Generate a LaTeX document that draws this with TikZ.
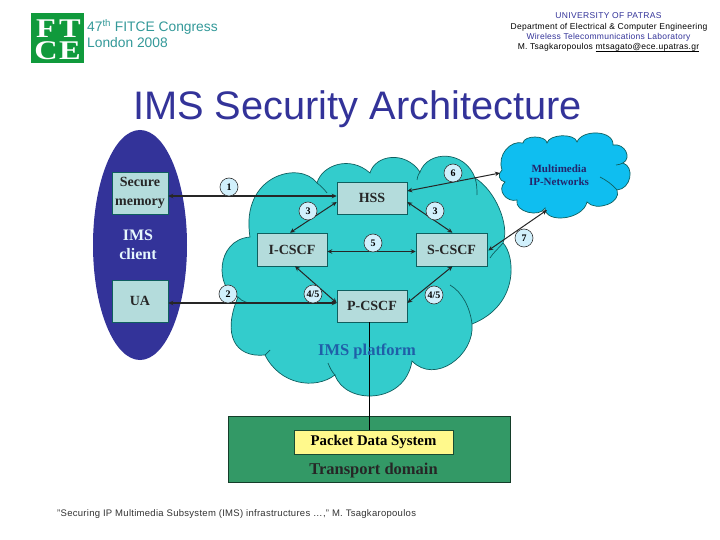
\documentclass[tikz,border=0pt]{standalone}
\usepackage{fontspec}
\setmainfont{Liberation Serif}
\setsansfont{Liberation Sans}
\usetikzlibrary{calc,arrows.meta}
\newcommand\fsz[1]{\fontsize{#1}{#1}\selectfont}
\definecolor{navy}{HTML}{333399}
\definecolor{cloudc}{HTML}{33CCCC}
\definecolor{cloude}{HTML}{0F5F5F}
\definecolor{boxc}{HTML}{B4DCDC}
\definecolor{inetc}{HTML}{0FBEF0}
\definecolor{tealt}{HTML}{339999}
\definecolor{greenr}{HTML}{339966}
\definecolor{logog}{HTML}{109A3C}
\definecolor{platc}{HTML}{1F5FA8}
\tikzset{
  x=1pt,y=-1pt,
  boxn/.style={draw=cloude,line width=0.5pt,fill=boxc,inner sep=0pt,font=\bfseries\fsz{14},text=black!85},
  num/.style={circle,draw=black!80,line width=0.6pt,fill=cyan!18,minimum size=18pt,inner sep=0pt,font=\bfseries\fsz{10}},
  link/.style={draw=black!85,line width=1pt,{Stealth[length=5pt,width=4.5pt]}-{Stealth[length=5pt,width=4.5pt]}},
  thick link/.style={link,line width=1.4pt},
  lobe/.style={draw=cloude,line width=0.7pt},
  logol/.style={text=white,font=\bfseries\fsz{27}\addfontfeature{FakeStretch=1.2},inner sep=0pt,anchor=base},
  hdr/.style={font=\sffamily\fsz{8.5},inner sep=0pt,anchor=base},
  lbl/.style={inner sep=0pt,align=center}
}
\begin{document}
\begin{tikzpicture}
\useasboundingbox (0,0) rectangle (720,540);
\fill[white] (0,0) rectangle (720,540);
% logo
\node[fill=logog,minimum width=53pt,minimum height=50pt,inner sep=0pt] (logo) at (57.5,38) {};
\node[logol] (lf) at (46,38) {F};
\node[logol] (lt) at (70,38) {T};
\node[logol] (lc) at (46,60) {C};
\node[logol] (le) at (70,60) {E};
\node[lbl,anchor=base west,text=tealt,font=\sffamily\fsz{13.8}] (conf1) at (87,32) {47\textsuperscript{th} FITCE Congress};
\node[lbl,anchor=base west,text=tealt,font=\sffamily\fsz{13.8}] (conf2) at (87,48) {London 2008};
% right header
\node[hdr,text=navy] (h1) at (608.5,19) {\addfontfeature{LetterSpace=4}UNIVERSITY OF PATRAS};
\node[hdr] (h2) at (609,30) {\addfontfeature{LetterSpace=3}Department of Electrical \& Computer Engineering};
\node[hdr,text=navy] (h3) at (608.5,40) {\addfontfeature{LetterSpace=3}Wireless Telecommunications Laboratory};
\node[hdr] (h4) at (608.5,50) {\addfontfeature{LetterSpace=3}M. Tsagkaropoulos \underline{\smash{mtsagato@ece.upatras.gr}}};
% title
\node[lbl,anchor=base,text=navy,font=\sffamily\fsz{39.8}] (title) at (357.5,120) {IMS Security Architecture};
% main cloud
\path[fill=cloudc,lobe] (250,237)
  .. controls (240,175) and (300,160) .. (317,183)
  .. controls (322,165) and (350,155) .. (370,173)
  .. controls (375,155) and (405,150) .. (420,172)
  .. controls (428,150) and (465,150) .. (475,178)
  .. controls (495,190) and (510,225) .. (503,243)
  .. controls (515,255) and (520,305) .. (472,324)
  .. controls (475,355) and (435,385) .. (412,361)
  .. controls (405,405) and (345,405) .. (335,375)
  .. controls (315,390) and (280,385) .. (265,355)
  .. controls (235,358) and (222,335) .. (238,297)
  .. controls (215,290) and (215,240) .. (250,237) -- cycle;
\draw[lobe] (503,243) .. controls (497,250) and (493,253) .. (490,258);
\draw[lobe] (475,178) .. controls (477,184) and (477,190) .. (477,195);
\draw[lobe] (420,172) .. controls (418,175) and (417,178) .. (417,180);
\draw[lobe] (317,183) .. controls (321,186) and (324,189) .. (327,193);
\draw[lobe] (238,297) .. controls (242,302) and (250,304) .. (256,303);
\draw[lobe] (450,285) .. controls (462,292) and (470,307) .. (472,324);
\draw[lobe] (335,375) .. controls (332,372) and (330,368) .. (328,363);
\draw[lobe] (265,355) .. controls (267,353) and (268,352) .. (270,350);
% internet cloud
\path[fill=inetc,lobe] (502,170)
  .. controls (497,155) and (510,140) .. (523,143)
  .. controls (524,135) and (546,135) .. (547,143)
  .. controls (549,134) and (575,133) .. (577,142)
  .. controls (582,129) and (614,130) .. (613,145)
  .. controls (625,143) and (632,158) .. (623,163)
  .. controls (635,167) and (631,189) .. (617,190)
  .. controls (622,203) and (596,212) .. (587,202)
  .. controls (583,220) and (545,224) .. (545,208)
  .. controls (540,218) and (514,212) .. (517,200)
  .. controls (507,203) and (496,190) .. (505,182)
  .. controls (499,181) and (497,174) .. (502,170) -- cycle;
\draw[lobe] (600,177) .. controls (606,180) and (613,185) .. (617,190);
\draw[lobe] (616,165) .. controls (618,165) and (621,164) .. (623,163);
\node[lbl,font=\bfseries\fsz{11},text=navy!70!black] (inet) at (559,175) {Multimedia\\[1.5pt]IP-Networks};
% client ellipse
\fill[navy] (140,245) ellipse [x radius=47,y radius=115];
\node[lbl,font=\bfseries\fsz{16},text=cyan!10] (client) at (138,244.5) {IMS\\[3pt]client};
% boxes
\node[boxn,minimum width=56pt,minimum height=42pt,align=center] (sec) at (140,193) {Secure\\[5pt]memory};
\node[boxn,minimum width=56pt,minimum height=42pt] (ua) at (140,301) {UA};
\node[boxn,minimum width=70pt,minimum height=32pt] (hss) at (372,198) {HSS};
\node[boxn,minimum width=70pt,minimum height=33pt] (icscf) at (292,249.5) {I-CSCF};
\node[boxn,minimum width=71pt,minimum height=33pt] (scscf) at (451.5,249.5) {S-CSCF};
\node[boxn,minimum width=70pt,minimum height=32pt] (pcscf) at (372,306) {P-CSCF};
% transport
\node[draw=black!60!greenr,fill=greenr,minimum width=282pt,minimum height=66pt,inner sep=0pt] (trans) at (369,449) {};
\node[draw=black!50!greenr,line width=0.4pt,fill=yellow!45,minimum width=159pt,minimum height=24pt,inner sep=0pt,font=\bfseries\fsz{14.8}] (pds) at (373.5,442) {\raisebox{-1.5pt}{Packet Data System}};
\node[lbl,font=\bfseries\fsz{16.5},text=black!85] (tdom) at (373.5,471) {Transport domain};
% connectors
\coordinate (a1) at ($(hss.west)+(0,-2)$);
\draw[thick link] (a1) -- (a1 -| sec.east);
\draw[thick link] ($(ua.east)+(0,2)$) -- ($(pcscf.west)+(0,-3)$);
\draw[link] ($(hss.west)+(0,4)$) -- ($(icscf.north)+(-2,0)$);
\draw[link] ($(hss.east)+(0,4)$) -- ($(scscf.north)+(1,0)$);
\draw[link] ($(icscf.east)+(0,2)$) -- ($(scscf.west)+(0,2)$);
\draw[link] ($(icscf.south)+(3,0)$) -- ($(pcscf.west)+(0,-3)$);
\draw[link] ($(pcscf.east)+(0,-3)$) -- ($(scscf.south)+(1,0)$);
\coordinate (in6) at (500,173);
\coordinate (in7) at (547,210);
\draw[link] ($(hss.east)+(0,-7)$) -- (in6);
\draw[link] ($(scscf.east)+(1,1)$) -- (in7);
\coordinate (v1) at ($(pcscf.south)+(-3,0)$);
\draw[draw=black,line width=1pt] (v1) -- (v1 |- pds.north);
\node[lbl,font=\bfseries\fsz{16.5},text=platc] (plat) at (367,351) {IMS platform};
% numbers
\node[num] (n1) at (229,187) {1};
\node[num] (n2) at (228,294) {2};
\node[num] (n3a) at (308,211) {3};
\node[num] (n3b) at (435,211) {3};
\node[num] (n45a) at (313,294) {4/5};
\node[num] (n45b) at (434,295) {4/5};
\node[num] (n5) at (373,243) {5};
\node[num] (n6) at (453,173) {6};
\node[num] (n7) at (524,238) {7};
% footer
\node[lbl,anchor=base west,font=\sffamily\fsz{9.5},text=black!80] (foot) at (57,516) {\addfontfeature{LetterSpace=3}"Securing IP Multimedia Subsystem (IMS) infrastructures …," M. Tsagkaropoulos};
\end{tikzpicture}
\end{document}
